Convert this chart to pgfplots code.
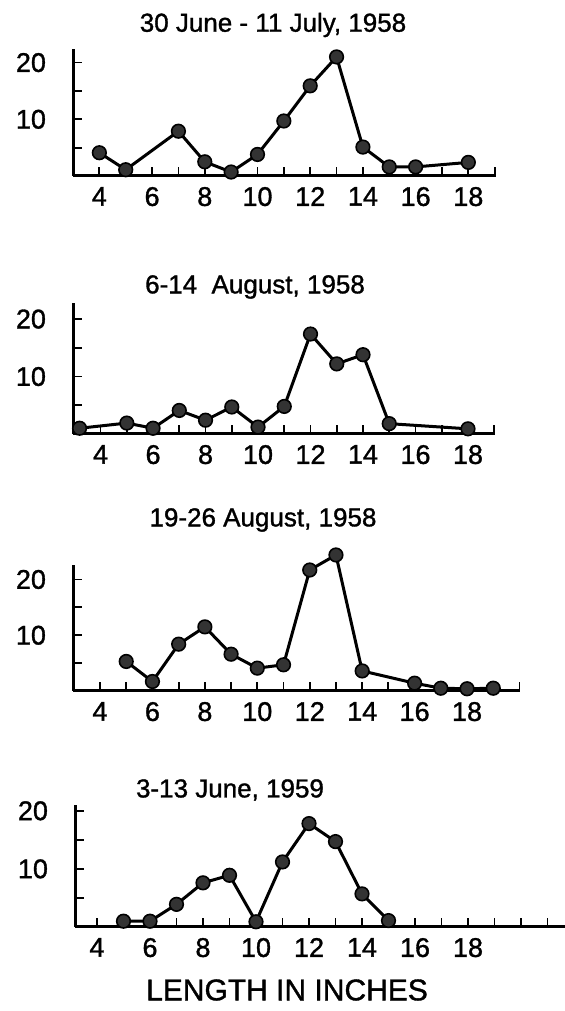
\documentclass[border=0pt]{standalone}
\usepackage{pgfplots}
\pgfplotsset{compat=1.18}
\usepackage{fontspec}
\setmainfont{Liberation Sans}[FakeBold=1.2]
\newfontfamily\lf{Liberation Sans}[FakeBold=1.2]
\pgfplotsset{panel/.style={
  scale only axis,
  axis x line=bottom, axis y line=left,
  axis line style={-, line width=1.5pt},
  ymin=0,
  xtick={4,6,...,18}, minor xtick={3,...,21},
  ytick={10,20}, minor ytick={5,15},
  tick align=inside,
  major tick length=4.5pt, minor tick length=4.5pt,
  every tick/.style={line width=0.9pt, black},
  every minor tick/.style={line width=0.9pt, black},
  tick label style={font=\lf\fontsize{13.5}{13.5}\selectfont},
  /pgf/number format/assume math mode=true,
  yticklabel style={xshift=-10pt},
  xticklabel style={yshift=-2pt},
  clip=false,
  anchor=south west,
},
ser/.style={black, line width=1.5pt, mark=*, mark size=3.4pt,
    mark options={fill=black!80, draw=black, line width=0.8pt}},
}
\begin{document}
\begin{tikzpicture}
\useasboundingbox (0,0) rectangle (282.5pt,505.5pt);
% Panel 1
\begin{axis}[panel, at={(36.5pt,417.5pt)}, width=211.5pt, height=63.5pt,
  xmin=3, xmax=19.05, ymax=22.4]
\addplot[ser] coordinates {(4,4.1) (5,1.1) (7,7.9) (8,2.5) (9,0.7) (10,3.8) (11,9.7) (12,15.9) (13,21) (14,5.1) (15,1.6) (16,1.6) (18,2.4)};
\end{axis}
% Panel 2
\begin{axis}[panel, at={(36.5pt,288.5pt)}, width=211pt, height=65.5pt,
  xmin=2.95, xmax=19.03, ymax=22.8]
\addplot[ser] coordinates {(3.2,1.0) (5,1.9) (6,1.0) (7,4.1) (8,2.4) (9,4.7) (10,1.2) (11,4.8) (12,17.4) (13,12.2) (14,13.8) (15,1.8) (18,0.9)};
\end{axis}
% Panel 3
\begin{axis}[panel, at={(36.5pt,160pt)}, width=223.5pt, height=63pt,
  xmin=2.97, xmax=20.02, ymax=22.6]
\addplot[ser] coordinates {(5,5.3) (6,1.7) (7,8.4) (8,11.5) (9,6.6) (10,4.1) (11,4.7) (12,21.7) (13,24.4) (14,3.6) (16,1.4) (17,0.5) (18,0.4) (19,0.5)};
\end{axis}
% Panel 4
\begin{axis}[panel, at={(37.5pt,42pt)}, width=245pt, height=61pt,
  xmin=3.17, xmax=21.66, ymax=21]
\addplot[ser] coordinates {(5,1.0) (6,1.0) (7,3.9) (8,7.6) (9,8.9) (10,0.9) (11,11.2) (12,17.8) (13,14.7) (14,5.7) (15,1.1)};
\end{axis}
\node[font=\lf\fontsize{13}{13}\selectfont] at (136.5pt,493pt) {30 June - 11 July, 1958};
\node[font=\lf\fontsize{13}{13}\selectfont] at (127.5pt,362pt) {6-14~ August, 1958};
\node[font=\lf\fontsize{13}{13}\selectfont] at (131.5pt,245.5pt) {19-26 August, 1958};
\node[font=\lf\fontsize{13}{13}\selectfont] at (115pt,110.5pt) {3-13 June, 1959};
\node[font=\lf\fontsize{15}{15}\selectfont] at (143.5pt,10.5pt) {LENGTH IN INCHES};
\end{tikzpicture}
\end{document}
